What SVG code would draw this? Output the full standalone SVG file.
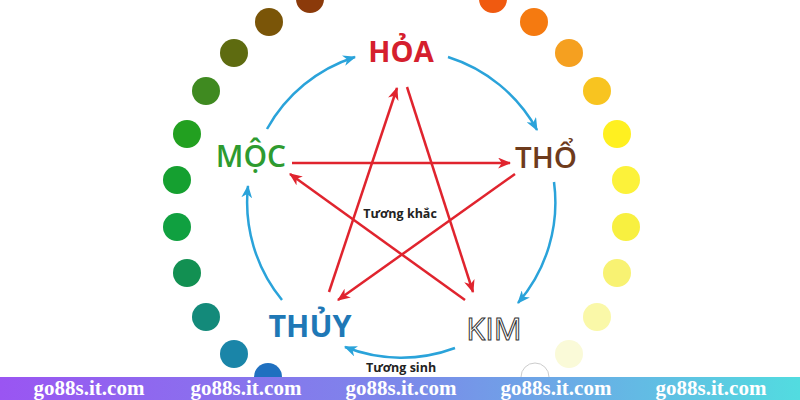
<svg xmlns="http://www.w3.org/2000/svg" width="800" height="400" viewBox="0 0 800 400">
<defs>
<style>
.lbl{font-family:"Open Sans","Liberation Sans",sans-serif;text-anchor:middle}
.red{stroke:#E0242E;stroke-width:2.5;fill:none;marker-end:url(#ar)}
.blue{stroke:#2AA3DA;stroke-width:2.5;fill:none;marker-end:url(#ab)}
.wm{font-family:"Liberation Serif",serif;font-weight:bold;font-size:21px;fill:#fff;text-anchor:middle}
.cap{font-family:"Open Sans","Liberation Sans",sans-serif;font-weight:700;font-size:12.5px;fill:#222;text-anchor:middle}
</style>
<marker id="ar" viewBox="0 0 12 10" refX="11" refY="5" markerWidth="13" markerHeight="11" orient="auto" markerUnits="userSpaceOnUse"><path d="M0,0 L12,5 L0,10 L3.5,5 z" fill="#E0242E"/></marker>
<marker id="ab" viewBox="0 0 12 10" refX="11" refY="5" markerWidth="13" markerHeight="11" orient="auto" markerUnits="userSpaceOnUse"><path d="M0,0 L12,5 L0,10 L3.5,5 z" fill="#2AA3DA"/></marker>
<linearGradient id="bg" x1="0" y1="0" x2="1" y2="0">
<stop offset="0" stop-color="#9A55F2"/>
<stop offset="0.5" stop-color="#7C88EA"/>
<stop offset="1" stop-color="#52DCE0"/>
</linearGradient>
</defs>
<rect width="800" height="400" fill="#fff"/>
<g id="dots">
<circle cx="310" cy="-1" r="14" fill="#8B3A0A"/>
<circle cx="269" cy="22" r="14" fill="#7A5508"/>
<circle cx="234" cy="53" r="14" fill="#5E6B10"/>
<circle cx="206" cy="91" r="14" fill="#3F8A20"/>
<circle cx="187" cy="134" r="14" fill="#22A020"/>
<circle cx="177" cy="180" r="14" fill="#15A030"/>
<circle cx="177" cy="227" r="14" fill="#10A040"/>
<circle cx="187" cy="273" r="14" fill="#129052"/>
<circle cx="206" cy="317" r="14" fill="#138A7A"/>
<circle cx="234" cy="354" r="14" fill="#1A85A8"/>
<circle cx="268" cy="377" r="14" fill="#2070C0"/>
<circle cx="493" cy="-1" r="14" fill="#F05A10"/>
<circle cx="534" cy="22" r="14" fill="#F57A10"/>
<circle cx="569" cy="53" r="14" fill="#F5A020"/>
<circle cx="597" cy="91" r="14" fill="#F8C420"/>
<circle cx="617" cy="134" r="14" fill="#FFF020"/>
<circle cx="626" cy="180" r="14" fill="#FCF23A"/>
<circle cx="626" cy="227" r="14" fill="#F8F040"/>
<circle cx="617" cy="273" r="14" fill="#F8F272"/>
<circle cx="597" cy="317" r="14" fill="#FAF8A8"/>
<circle cx="569" cy="354" r="14" fill="#FAFAD8"/>
<circle cx="535" cy="377" r="14" fill="#fff" stroke="#ccc" stroke-width="1"/>
</g>
<g id="connectors">
<path class="blue" d="M267,129 A154,154 0 0 1 355,57"/>
<path class="blue" d="M448,57 A154,154 0 0 1 537,130"/>
<path class="blue" d="M554,182 A154,154 0 0 1 518,303"/>
<path class="blue" d="M455,348 A154,154 0 0 1 345,347"/>
<path class="blue" d="M282,300 A154,154 0 0 1 248,186"/>
<path class="red" d="M292,163 L510,163"/>
<path class="red" d="M329,292 L397,88"/>
<path class="red" d="M407,87 L473,292"/>
<path class="red" d="M515,174 L338,300"/>
<path class="red" d="M465,300 L290,174"/>
</g>
<g id="hoa"><text class="lbl" x="401" y="62" font-size="29" font-weight="700" fill="#D51F2E">HỎA</text></g>
<g id="moc"><text class="lbl" x="251" y="167" font-size="30" font-weight="600" fill="#2E9B30">MỘC</text></g>
<g id="tho"><text class="lbl" x="546" y="168" font-size="29.5" font-weight="600" fill="#6E3B1C">THỔ</text></g>
<g id="thuy"><text class="lbl" x="310" y="337" font-size="30.5" font-weight="700" fill="#1F78B6">THỦY</text></g>
<g id="kim"><text class="lbl" x="494" y="340" font-size="31" font-weight="400" fill="#fff" stroke="#333" stroke-width="1">KIM</text></g>
<g id="tuong-khac"><text class="cap" x="400" y="218">Tương khắc</text></g>
<g id="tuong-sinh"><text class="cap" x="401" y="371.5" font-size="12">Tương sinh</text></g>
<g id="banner">
<rect x="0" y="377" width="800" height="23" fill="url(#bg)"/>
<text class="wm" x="89" y="395">go88s.it.com</text>
<text class="wm" x="246" y="395">go88s.it.com</text>
<text class="wm" x="401" y="395">go88s.it.com</text>
<text class="wm" x="556" y="395">go88s.it.com</text>
<text class="wm" x="711" y="395">go88s.it.com</text>
</g>
</svg>
